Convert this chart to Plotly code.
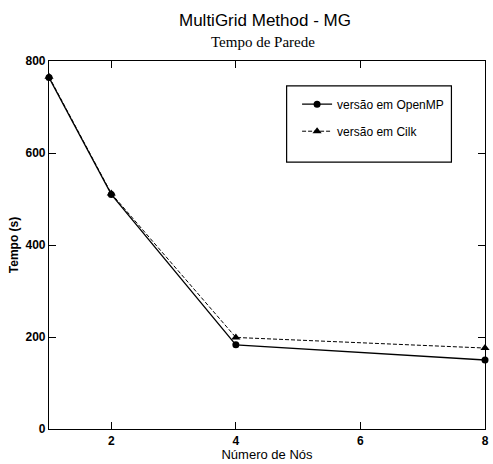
import plotly.graph_objects as go

nodes = [1, 2, 4, 8]
openmp = [764, 510, 183, 150]
cilk = [766, 512, 199, 176]
x_ticks = [2, 4, 6, 8]
y_ticks = [0, 200, 400, 600, 800]

fig = go.Figure()
fig.add_trace(go.Scatter(x=nodes, y=openmp, mode="lines+markers", name="versão em OpenMP",
                         legendgroup="a",
                         line=dict(color="black", width=1.3, dash="solid"),
                         marker=dict(symbol="circle", size=7, color="black"), cliponaxis=False))
fig.add_trace(go.Scatter(x=nodes, y=cilk, mode="lines+markers", name="versão em Cilk",
                         legendgroup="b",
                         line=dict(color="black", width=1, dash="4px,2px"),
                         marker=dict(symbol="triangle-up", size=8, color="black"), cliponaxis=False))

fig.update_layout(
    width=493, height=464,
    paper_bgcolor="white", plot_bgcolor="white",
    margin=dict(l=49, r=4, t=61, b=32),
    font=dict(family="Liberation Sans, Arial", color="black", size=12),
    showlegend=True,
    legend=dict(x=0.569, y=0.922, xanchor="left", yanchor="top",
                borderwidth=0, bgcolor="rgba(0,0,0,0)",
                font=dict(size=12), tracegroupgap=8, itemwidth=30),
)
# legend frame
fig.add_shape(type="rect", xref="paper", yref="paper", x0=0.545, x1=0.923, y0=0.725, y1=0.9326,
              line=dict(color="black", width=1.2), fillcolor="rgba(0,0,0,0)", layer="above")
fig.add_annotation(text="MultiGrid Method - MG", xref="paper", yref="paper", x=0.495, y=1.1105,
                   yanchor="middle", showarrow=False, font=dict(size=17, family="Liberation Sans"))
fig.add_annotation(text="Tempo de Parede", xref="paper", yref="paper", x=0.491, y=1.0512,
                   yanchor="middle", showarrow=False, font=dict(size=15, family="Liberation Serif"))
fig.update_xaxes(range=[1, 8], tickvals=x_ticks, ticks="inside", ticklen=7, tickcolor="black",
                 showline=True, linecolor="black", linewidth=1.2, mirror="ticks", showgrid=False,
                 zeroline=False, tickfont=dict(size=12, weight="bold"),
                 title=dict(text="Número de Nós", font=dict(size=13), standoff=3))
fig.update_yaxes(range=[0, 800], tickvals=y_ticks, ticks="inside", ticklen=7, tickcolor="black",
                 showline=True, linecolor="black", linewidth=1.2, mirror="ticks", showgrid=False,
                 zeroline=False, tickfont=dict(size=12, weight="bold"),
                 title=dict(text="Tempo (s)", font=dict(size=12, weight="bold"), standoff=4))

fig.write_html("out.html")
